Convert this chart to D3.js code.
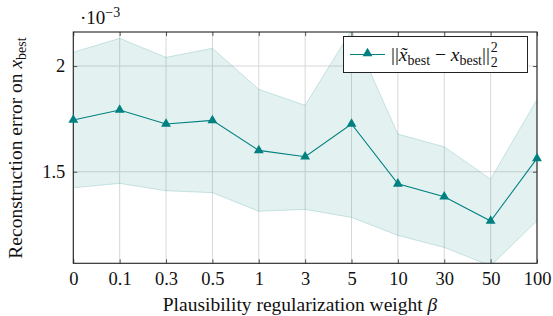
<!DOCTYPE html>
<html><head><meta charset="utf-8">
<script src="https://cdn.jsdelivr.net/npm/d3@7"></script>
</head>
<body style="margin:0;background:#fff">
<svg id="c" width="553" height="316"></svg>
<script>
const categories = ["0","0.1","0.3","0.5","1","3","5","10","30","50","100"];
const meanVals  = [1.745,1.792,1.726,1.743,1.601,1.571,1.726,1.443,1.382,1.267,1.563];
const upperVals = [2.065,2.131,2.041,2.084,1.890,1.814,2.170,1.678,1.618,1.465,1.842];
const lowerVals = [1.424,1.445,1.410,1.401,1.313,1.322,1.284,1.199,1.142,1.055,1.268];
const yTicks = [1.5, 2];
const yTickLabels = ["1.5", "2"];

const FONT = "Liberation Serif";
const svg = d3.select("#c");
const m = {left:73.3, right:537, top:32, bottom:263.3};
const x = d3.scalePoint().domain(categories).range([m.left, m.right]);
const y = d3.scaleLinear().domain([1.067, 2.161]).range([m.bottom, m.top]);

svg.append("defs").append("clipPath").attr("id","clip")
  .append("rect").attr("x",m.left).attr("y",m.top).attr("width",m.right-m.left).attr("height",m.bottom-m.top);

const g = svg.append("g");
g.selectAll(".vg").data(categories).join("line")
  .attr("x1",d=>x(d)).attr("x2",d=>x(d)).attr("y1",m.top).attr("y2",m.bottom)
  .attr("stroke","#d8d8d8").attr("stroke-width",1);
g.selectAll(".hg").data(yTicks).join("line")
  .attr("x1",m.left).attr("x2",m.right).attr("y1",d=>y(d)).attr("y2",d=>y(d))
  .attr("stroke","#d8d8d8").attr("stroke-width",1);

const data = categories.map((c,i)=>({c, m:meanVals[i], u:upperVals[i], l:lowerVals[i]}));
const cg = g.append("g").attr("clip-path","url(#clip)");
cg.append("path").datum(data)
  .attr("d", d3.area().x(d=>x(d.c)).y0(d=>y(d.l)).y1(d=>y(d.u)))
  .attr("fill","#008080").attr("fill-opacity",0.11);
cg.append("path").datum(data).attr("d", d3.line().x(d=>x(d.c)).y(d=>y(d.u)))
  .attr("fill","none").attr("stroke","#008080").attr("stroke-opacity",0.18).attr("stroke-width",1);
cg.append("path").datum(data).attr("d", d3.line().x(d=>x(d.c)).y(d=>y(d.l)))
  .attr("fill","none").attr("stroke","#008080").attr("stroke-opacity",0.18).attr("stroke-width",1);

function styleAxis(sel){
  sel.select(".domain").remove();
  sel.attr("font-family",FONT);
  sel.selectAll("line").attr("stroke","#555");
  sel.selectAll("text").attr("font-size",18.5).attr("fill","#111").attr("font-family",FONT);
}
const ax = g.append("g").attr("transform",`translate(0,${m.bottom})`)
  .call(d3.axisBottom(x).tickSizeInner(-4).tickSizeOuter(0).tickPadding(9));
styleAxis(ax);
const axt = g.append("g").attr("transform",`translate(0,${m.top})`)
  .call(d3.axisTop(x).tickSizeInner(-4).tickSizeOuter(0).tickFormat(""));
styleAxis(axt);
const ay = g.append("g").attr("transform",`translate(${m.left},0)`)
  .call(d3.axisLeft(y).tickValues(yTicks).tickFormat((d,i)=>yTickLabels[i]).tickSizeInner(-4).tickSizeOuter(0).tickPadding(8));
styleAxis(ay);
const ayr = g.append("g").attr("transform",`translate(${m.right},0)`)
  .call(d3.axisRight(y).tickValues(yTicks).tickFormat("").tickSizeInner(-4).tickSizeOuter(0));
styleAxis(ayr);

g.append("rect").attr("x",m.left).attr("y",m.top).attr("width",m.right-m.left).attr("height",m.bottom-m.top)
  .attr("fill","none").attr("stroke","#222").attr("stroke-width",1.1);

g.append("path").datum(data).attr("d", d3.line().x(d=>x(d.c)).y(d=>y(d.m)))
  .attr("fill","none").attr("stroke","#008080").attr("stroke-width",1.1);
const tri = d3.symbol().type(d3.symbolTriangle).size(42);
g.selectAll(".mk").data(data).join("path")
  .attr("d", tri).attr("transform", d=>`translate(${x(d.c)},${y(d.m)})`)
  .attr("fill","#008080");

// legend
const lg = g.append("g").attr("font-family",FONT);
lg.append("rect").attr("x",343.5).attr("y",36.5).attr("width",184).attr("height",36)
  .attr("fill","#fff").attr("stroke","#222").attr("stroke-width",1);
lg.append("line").attr("x1",350).attr("x2",385).attr("y1",54.5).attr("y2",54.5)
  .attr("stroke","#008080").attr("stroke-width",1.1);
lg.append("path").attr("d",tri).attr("transform","translate(367.5,53.5)").attr("fill","#008080");
const lt = lg.append("text").attr("x",391).attr("y",60.5).attr("font-size",19.5).attr("font-family",FONT).attr("fill","#111");
lt.append("tspan").text("||");
lt.append("tspan").attr("font-style","italic").text("x\u0303");
lt.append("tspan").attr("font-size",14).attr("dy",4).text("best");
lt.append("tspan").attr("dy",-4).text(" \u2212 ");
lt.append("tspan").attr("font-style","italic").text("x");
lt.append("tspan").attr("font-size",14).attr("dy",4).text("best");
lt.append("tspan").attr("dy",-4).text("||");
const lw = lt.node().getComputedTextLength();
lg.append("text").attr("x",391+lw+1).attr("y",52).attr("font-size",14).attr("font-family",FONT).attr("fill","#111").text("2");
lg.append("text").attr("x",391+lw+1).attr("y",67).attr("font-size",14).attr("font-family",FONT).attr("fill","#111").text("2");

// multiplier
const mt = svg.append("text").attr("x",80).attr("y",24).attr("font-size",19).attr("font-family",FONT).attr("fill","#111");
mt.append("tspan").text("\u00b710");
mt.append("tspan").attr("font-size",14).attr("dy",-7).text("\u22123");

// axis labels
const xl = svg.append("text").attr("x",300).attr("y",311).attr("text-anchor","middle").attr("font-size",19.5).attr("font-family",FONT).attr("fill","#111");
xl.append("tspan").text("Plausibility regularization weight ");
xl.append("tspan").attr("font-style","italic").text("\u03b2");

const yl = svg.append("text").attr("transform","translate(22,148) rotate(-90)").attr("text-anchor","middle").attr("font-size",19.5).attr("font-family",FONT).attr("fill","#111");
yl.append("tspan").text("Reconstruction error on ");
yl.append("tspan").attr("font-style","italic").text("x");
yl.append("tspan").attr("font-size",14).attr("dy",4).text("best");
</script></body></html>
